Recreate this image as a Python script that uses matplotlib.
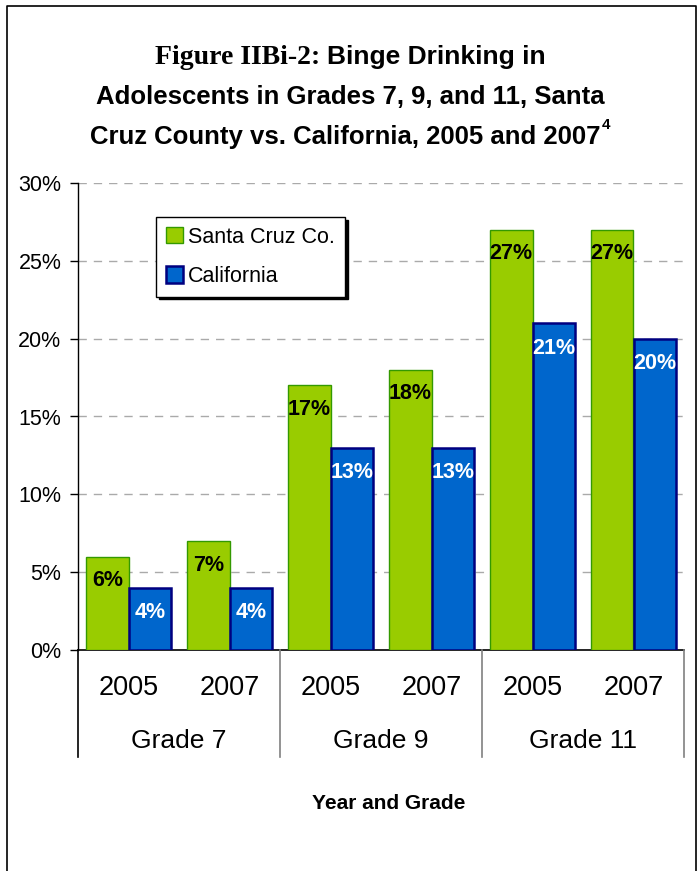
import matplotlib.pyplot as plt
from matplotlib.lines import Line2D

years = ['2005', '2007', '2005', '2007', '2005', '2007']
grades = ['Grade 7', 'Grade 9', 'Grade 11']
santa_cruz = [6, 7, 17, 18, 27, 27]
california = [4, 4, 13, 13, 21, 20]

W, H = 698, 871
fig = plt.figure(figsize=(W / 100, H / 100), dpi=100)
plt.rcParams['font.family'] = ['Liberation Sans', 'DejaVu Sans']


def fx(px):
    return px / W


def fy(py):
    return 1 - py / H


ax = fig.add_axes([fx(78), fy(650), fx(684) - fx(78), fy(183) - fy(650)])

x = list(range(len(years)))
bw = 0.42
green, green_edge = '#99CC00', '#339900'
blue, blue_edge = '#0066CC', '#000080'
ax.bar([i - bw / 2 for i in x], santa_cruz, bw, color=green, edgecolor=green_edge,
       linewidth=1, label='Santa Cruz Co.', zorder=3)
ax.bar([i + bw / 2 for i in x], california, bw, color=blue, edgecolor=blue_edge,
       linewidth=1.8, label='California', zorder=3)

for i in x:
    ax.text(i - bw / 2, santa_cruz[i] - 1.55, f'{santa_cruz[i]}%', ha='center', va='center',
            fontsize=15.5, fontweight='bold', color='black', zorder=4)
    ax.text(i + bw / 2, california[i] - 1.6, f'{california[i]}%', ha='center', va='center',
            fontsize=15.5, fontweight='bold', color='white', zorder=4)

ax.set_xlim(-0.5, 5.5)
ax.set_ylim(0, 30)
ax.set_yticks(range(0, 31, 5))
ax.set_yticklabels([f'{v}%' for v in range(0, 31, 5)], fontsize=15.5)
ax.set_xticks([])
for v in range(5, 31, 5):
    ax.axhline(v, color='#AAAAAA', linestyle=(0, (6, 5)), linewidth=1, zorder=1)
for s in ['top', 'right']:
    ax.spines[s].set_visible(False)
ax.spines['left'].set_linewidth(1)
ax.spines['bottom'].set_linewidth(1.2)
ax.tick_params(axis='y', length=6, width=1, direction='out', pad=6)

leg = ax.legend(loc='upper left', bbox_to_anchor=((156 - 78) / 606, (650 - 217) / 467),
                fontsize=15.5, frameon=True, fancybox=False, shadow={'color': 'black', 'alpha': 1},
                edgecolor='black', handlelength=0.8, handleheight=0.8, handletextpad=0.25,
                borderpad=0.45, labelspacing=0.85, borderaxespad=0)
leg.get_frame().set_linewidth(1)

# category axis: years, grades, separators
for i, yr in enumerate(years):
    xp = 78 + (i + 0.5) * 101
    fig.text(fx(xp), fy(688), yr, ha='center', va='center', fontsize=19.5)
for g, name in enumerate(grades):
    xp = 78 + (g + 0.5) * 202
    fig.text(fx(xp), fy(741), name, ha='center', va='center', fontsize=19)
for k, xp in enumerate([78, 280, 482, 684]):
    fig.add_artist(Line2D([fx(xp), fx(xp)], [fy(650), fy(757)],
                          color='black' if k == 0 else '#808080', linewidth=1.2))
fig.text(fx(389), fy(803), 'Year and Grade', ha='center', va='center',
         fontsize=15, fontweight='bold')

# title
fig.canvas.draw()
r = fig.canvas.get_renderer()


def width(t):
    bb = t.get_window_extent(renderer=r)
    return bb.width / W


t1 = fig.text(0, fy(57), 'Figure IIBi-2: ', family='Liberation Serif', fontsize=20,
              fontweight='bold', va='center', ha='left')
t2 = fig.text(0, fy(57), 'Binge Drinking in', fontsize=19, fontweight='bold',
              va='center', ha='left')
w1, w2 = width(t1), width(t2)
start = fx(350) - (w1 + w2) / 2
t1.set_x(start)
t2.set_x(start + w1)

fig.text(fx(350), fy(97), 'Adolescents in Grades 7, 9, and 11, Santa', fontsize=18.5,
         fontweight='bold', ha='center', va='center')
t3 = fig.text(0, fy(137), 'Cruz County vs. California, 2005 and 2007', fontsize=18.5,
              fontweight='bold', ha='left', va='center')
t4 = fig.text(0, fy(125), '4', fontsize=11, fontweight='bold', ha='left', va='center')
w3, w4 = width(t3), width(t4)
start = fx(350) - (w3 + w4) / 2
t3.set_x(start)
t4.set_x(start + w3 + 0.001)

# outer border (left, top, right)
fig.add_artist(Line2D([fx(6.5), fx(6.5), fx(696), fx(696)], [0, fy(6.5), fy(6.5), 0],
                      color='black', linewidth=1.2))

fig.savefig('out.png', dpi=100)
